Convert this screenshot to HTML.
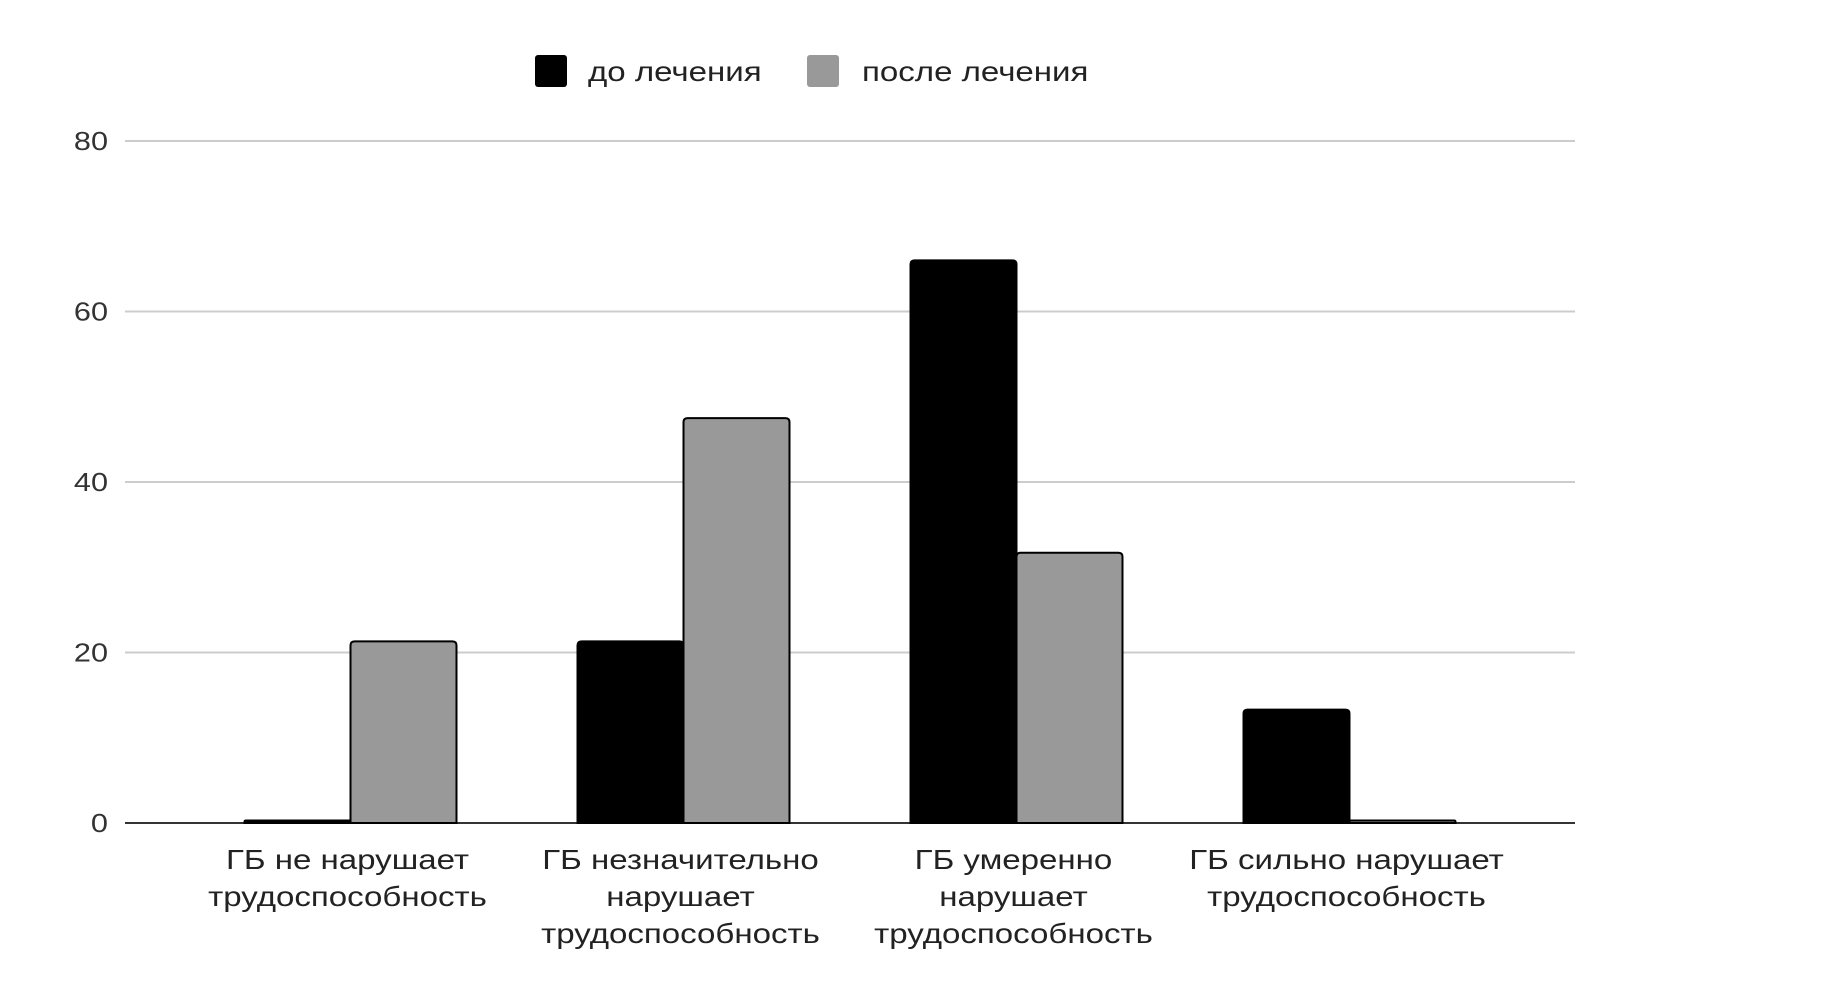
<!DOCTYPE html>
<html><head><meta charset="utf-8"><style>
html,body{margin:0;padding:0;background:#fff;}
svg{display:block;font-family:"Liberation Sans",sans-serif;}
</style></head><body>
<svg id="chart" width="1827" height="1000">
<g id="legend">
<rect x="535" y="55" width="32" height="32" rx="3" fill="#000"/>
<text class="wide" x="588" y="81" font-size="28" fill="#222">до лечения</text>
<rect x="807" y="55" width="32" height="32" rx="3" fill="#999"/>
<text class="wide" x="862" y="81" font-size="28" fill="#222">после лечения</text>
</g>
<g id="grid"></g><g id="bars"></g><g id="xlabels"></g>
</svg>
<script>
const categories=[["ГБ не нарушает","трудоспособность"],["ГБ незначительно","нарушает","трудоспособность"],["ГБ умеренно","нарушает","трудоспособность"],["ГБ сильно нарушает","трудоспособность"]];
const beforeValues=[0.3,21.3,66,13.3];
const afterValues=[21.3,47.5,31.7,0.3];
const yTicks=[0,20,40,60,80];
const NS="http://www.w3.org/2000/svg";
const x0=125,x1=1575,y0=823,y1=141,dL=184,dR=1516;
function yScale(v){return y0-(v/80)*(y0-y1);}
function xCenter(i){const bw=(dR-dL)/categories.length;return dL+bw*(i+0.5);}
function mk(t,a,p){const e=document.createElementNS(NS,t);for(const k in a)e.setAttribute(k,a[k]);p.appendChild(e);return e;}
const grid=document.getElementById('grid');
yTicks.forEach(v=>{
 const l=mk('line',{x1:x0,x2:x1,y1:yScale(v),y2:yScale(v),stroke:v===0?'#333':'#ccc','stroke-width':2},grid);
 
 
 const t=mk('text',{x:108,y:yScale(v)+9,'font-size':26,'text-anchor':'end',fill:'#333','class':'wide'},grid);
 t.textContent=v;
 
 
});
const bars=document.getElementById('bars');
const bw=106;
function bar(x,v,fill,name){
 const y=yScale(v),h=y0-y;
 const r=Math.min(4,h/2);
 const d=`M${x},${y0} L${x},${y+r} Q${x},${y} ${x+r},${y} L${x+bw-r},${y} Q${x+bw},${y} ${x+bw},${y+r} L${x+bw},${y0} Z`;
 const p=mk('path',{d:d,fill:fill,stroke:'#000','stroke-width':2},bars);
 
 
}
categories.forEach((c,i)=>{
 const cx=xCenter(i);
 bar(cx-bw,beforeValues[i],'#000','bar-before-'+(i+1));
 bar(cx,afterValues[i],'#999','bar-after-'+(i+1));
 const g=document.getElementById('xlabels');
 c.forEach((line,j)=>{
  const t=mk('text',{x:cx-3,y:869+j*37,'font-size':28,'text-anchor':'middle',fill:'#222','class':'wide'},g);
  t.textContent=line;
  
  
 });
});
document.querySelectorAll('text.wide').forEach(t=>{
 const w=t.getComputedTextLength();
 t.setAttribute('textLength',(w*1.18).toFixed(1));
 t.setAttribute('lengthAdjust','spacingAndGlyphs');
});
</script>
</body></html>
